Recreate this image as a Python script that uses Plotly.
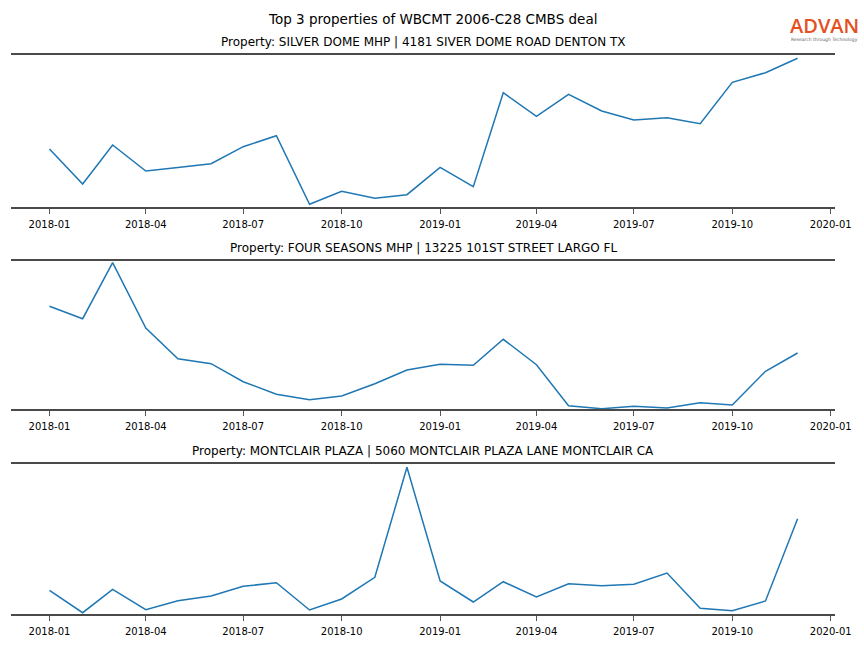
import pandas as pd
import plotly.graph_objects as go
from plotly.subplots import make_subplots

months = pd.date_range("2018-01-01", "2019-12-01", freq="MS")

titles = [
    "Property: SILVER DOME MHP | 4181 SIVER DOME ROAD DENTON TX",
    "Property: FOUR SEASONS MHP | 13225 101ST STREET LARGO FL",
    "Property: MONTCLAIR PLAZA | 5060 MONTCLAIR PLAZA LANE MONTCLAIR CA",
]

silver_dome = [57.7, 22.7, 61.7, 35.7, 39.2, 43.0, 60.0, 71.0, 2.4, 15.4, 8.4, 12.0,
               39.4, 20.0, 114.0, 90.4, 112.4, 95.7, 86.7, 89.0, 83.0, 124.4, 134.0, 148.4]
four_seasons = [103.0, 90.6, 146.6, 81.3, 50.6, 45.6, 27.6, 15.0, 9.6, 13.3, 25.6, 39.3,
                45.0, 44.0, 70.0, 44.6, 3.6, 0.6, 3.0, 1.3, 6.6, 4.3, 38.0, 56.3]
montclair = [24.0, 1.6, 25.0, 4.6, 13.6, 18.3, 28.0, 31.6, 4.3, 15.3, 37.0, 147.0,
             33.3, 12.3, 32.6, 17.3, 30.6, 28.6, 30.0, 41.3, 6.0, 3.6, 13.3, 95.6]

series = [silver_dome, four_seasons, montclair]
y_ranges = [[0, 152.0], [0, 148.6], [0, 150.3]]
tick_dates = pd.date_range("2018-01-01", "2020-01-01", freq="3MS")

W, H = 864, 648
L, R = 11, 835
panels_px = [(54.7, 206.7), (260.7, 409.3), (464.0, 614.3)]

fig = make_subplots(rows=3, cols=1)
for i, vals in enumerate(series):
    fig.add_trace(go.Scatter(x=months, y=vals, mode="lines",
                             line=dict(color="#1f77b4", width=1.5),
                             showlegend=False, hoverinfo="x+y"), row=i + 1, col=1)

x_range = [pd.Timestamp("2017-11-26 01:00"), pd.Timestamp("2020-01-04 23:00")]
layout_axes = {}
for i, (top, bot) in enumerate(panels_px):
    sfx = "" if i == 0 else str(i + 1)
    layout_axes["xaxis" + sfx] = dict(
        domain=[0, 1], range=x_range, type="date", automargin=False,
        tickvals=tick_dates, ticktext=[d.strftime("%Y-%m") for d in tick_dates],
        ticks="outside", ticklen=5, tickwidth=1, tickcolor="#555",
        ticklabelstandoff=2,
        showline=True, mirror=True, linecolor="#4a4a4a", linewidth=1.8,
        showgrid=False, zeroline=False,
        tickfont=dict(family="DejaVu Sans", size=10, color="black"),
    )
    layout_axes["yaxis" + sfx] = dict(
        domain=[1 - bot / H, 1 - top / H], range=y_ranges[i], automargin=False,
        showticklabels=False, ticks="", showgrid=False, zeroline=False, showline=False,
    )
fig.update_layout(**layout_axes)

def px_x(x):
    return (x - L) / (R - L)

annotations = [
    dict(text="Top 3 properties of WBCMT 2006-C28 CMBS deal", x=px_x(432), y=1 - 19 / H,
         xref="paper", yref="paper", showarrow=False, xanchor="center", yanchor="middle",
         font=dict(family="DejaVu Sans", size=13.5, color="black")),
]
for i, (top, bot) in enumerate(panels_px):
    annotations.append(dict(text=titles[i], x=0.5, y=1 - (top - 13) / H,
                            xref="paper", yref="paper", showarrow=False,
                            xanchor="center", yanchor="middle",
                            font=dict(family="DejaVu Sans", size=12, color="black")))
annotations.append(dict(text="ADVAN", x=px_x(824.5), y=1 - 26 / H,
                        xref="paper", yref="paper", showarrow=False,
                        xanchor="center", yanchor="middle",
                        font=dict(family="Open Sans", size=20, color="#e4511f", weight=600)))
annotations.append(dict(text="Research through Technology", x=px_x(824), y=1 - 39.5 / H,
                        xref="paper", yref="paper", showarrow=False,
                        xanchor="center", yanchor="middle",
                        font=dict(family="DejaVu Sans", size=4.5, color="#666")))

fig.update_layout(
    width=W, height=H,
    margin=dict(l=L, r=W - R, t=0, b=0, autoexpand=False),
    paper_bgcolor="white", plot_bgcolor="white",
    annotations=annotations,
)

fig.write_html("out.html", config={"displayModeBar": False},
               post_script="document.body.style.margin='0px';document.body.style.overflow='hidden';")
